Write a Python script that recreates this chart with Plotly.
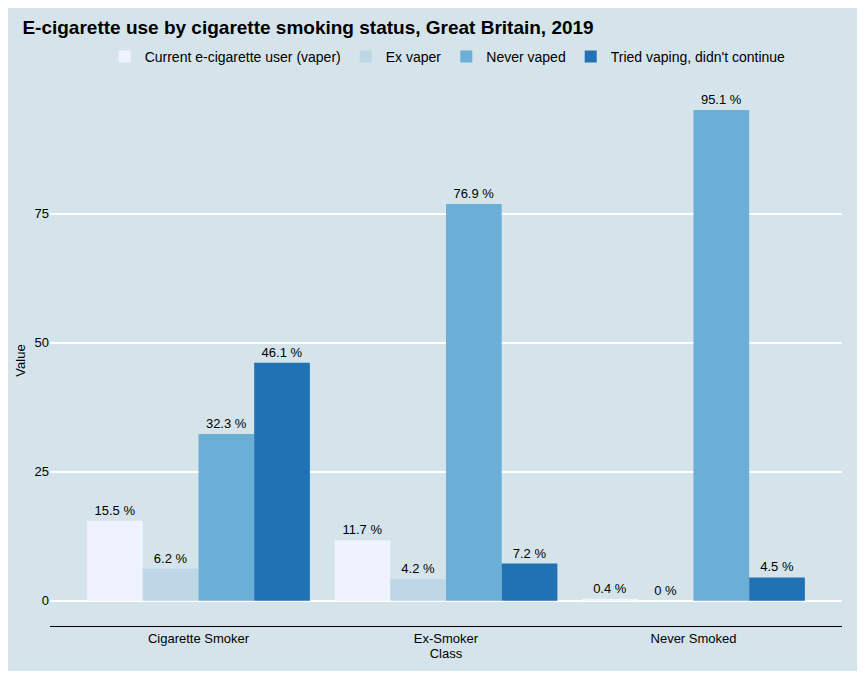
import plotly.graph_objects as go

classes = ["Cigarette Smoker", "Ex-Smoker", "Never Smoked"]
series = ["Current e-cigarette user (vaper)", "Ex vaper", "Never vaped", "Tried vaping, didn't continue"]
values = {
    "Current e-cigarette user (vaper)": [15.5, 11.7, 0.4],
    "Ex vaper": [6.2, 4.2, 0.0],
    "Never vaped": [32.3, 76.9, 95.1],
    "Tried vaping, didn't continue": [46.1, 7.2, 4.5],
}
colors = ["#eff3ff", "#bdd7e7", "#6baed6", "#2171b5"]

fig = go.Figure()
for s, c in zip(series, colors):
    fig.add_trace(go.Bar(
        x=classes, y=values[s], name=s, marker=dict(color=c, line=dict(width=0)),
        text=[f"{v:g} %" for v in values[s]], textposition="outside",
        textfont=dict(size=13, color="black"), cliponaxis=False,
    ))

bg = "#d5e4eb"
fig.update_layout(
    barmode="group", bargap=0.1, bargroupgap=0,
    width=849, height=663,
    paper_bgcolor=bg, plot_bgcolor=bg,
    font=dict(family="Liberation Sans, Arial, sans-serif", size=13, color="black"),
    margin=dict(l=42, r=15, t=87, b=45),
    title=dict(text="<b>E-cigarette use by cigarette smoking status, Great Britain, 2019</b>",
               x=0.017, xanchor="left", y=0.971, yanchor="middle", font=dict(size=19, color="black")),
    legend=dict(orientation="h", x=0.069, xanchor="left", y=1.0716, yanchor="middle",
                font=dict(size=14), bgcolor="rgba(0,0,0,0)", traceorder="normal"),
    xaxis=dict(range=[-0.6, 2.6], showgrid=False, showline=True, linecolor="black",
               ticks="", title=dict(text="Class", standoff=0, font=dict(size=13)),
               tickfont=dict(size=13)),
    yaxis=dict(range=[-4.9, 98], tickvals=[0, 25, 50, 75], gridcolor="white", gridwidth=2,
               zeroline=False, showline=False, ticks="",
               title=dict(text="Value", standoff=5, font=dict(size=13)), tickfont=dict(size=13)),
    showlegend=True,
)
fig.write_html("out.html")
